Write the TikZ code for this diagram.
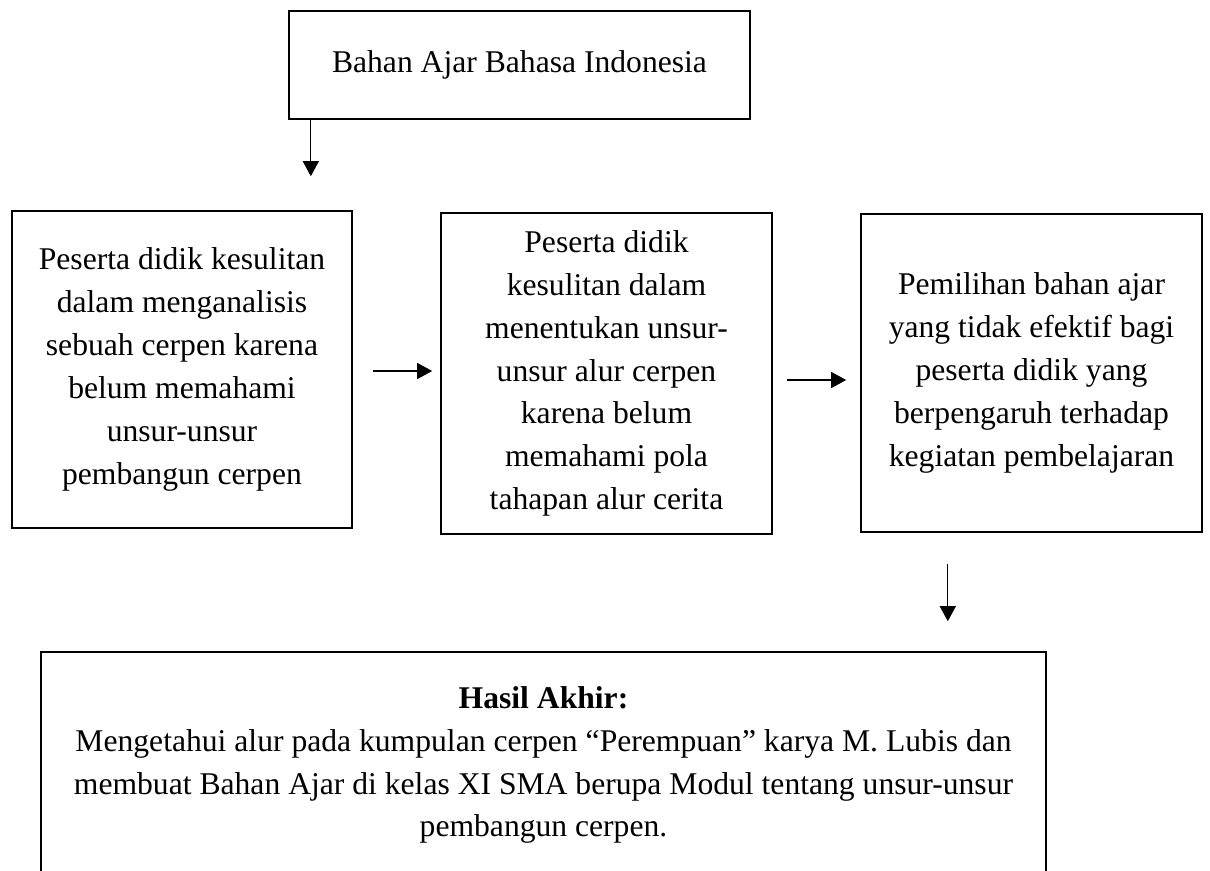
\documentclass[tikz,border=0pt]{standalone}
\usepackage{fontspec}
\setmainfont{Liberation Serif}
\usetikzlibrary{arrows.meta}
\begin{document}
\begin{tikzpicture}[x=0.02cm,y=-0.02cm,
  kotak/.style={draw,line width=1.4pt,align=center,inner sep=0pt,font=\fontsize{18}{24.4}\selectfont},
  panah/.style={-{Triangle[length=0.3cm,width=0.32cm]},line width=0.6pt}]
\useasboundingbox (0,0) rectangle (1210,870);
\clip (0,0) rectangle (1210,870);
\node[kotak,minimum width=9.22cm,minimum height=2.16cm] (bahan) at (519.5,65) {Bahan Ajar Bahasa Indonesia};
\node[kotak,minimum width=6.8cm,minimum height=6.34cm] (siswa1) at (182,369.5) {Peserta didik kesulitan\\dalam menganalisis\\sebuah cerpen karena\\belum memahami\\unsur-unsur\\pembangun cerpen};
\node[kotak,minimum width=6.62cm,minimum height=6.42cm] (siswa2) at (606.5,373.5) {Peserta didik\\kesulitan dalam\\menentukan unsur-\\unsur alur cerpen\\karena belum\\memahami pola\\tahapan alur cerita};
\node[kotak,minimum width=6.82cm,minimum height=6.36cm] (pilihan) at (1031.5,373) {Pemilihan bahan ajar\\yang tidak efektif bagi\\peserta didik yang\\berpengaruh terhadap\\kegiatan pembelajaran};
\node[kotak,minimum width=20.1cm,minimum height=4.52cm] (hasil) at (543.5,765) {\textbf{Hasil Akhir:}\\Mengetahui alur pada kumpulan cerpen “Perempuan” karya M. Lubis dan\\membuat Bahan Ajar di kelas XI SMA berupa Modul tentang unsur-unsur\\pembangun cerpen.};
\draw[panah] ([xshift=0.46cm]bahan.south west) -- ++(0,56);
\draw[panah] ([shift={(20,1.5)}]siswa1.east) -- ++(59,0);
\draw[panah] ([shift={(14,6.5)}]siswa2.east) -- ++(59,0);
\draw[panah] ([shift={(88,31)}]pilihan.south west) -- ++(0,57);
\end{tikzpicture}
\end{document}
